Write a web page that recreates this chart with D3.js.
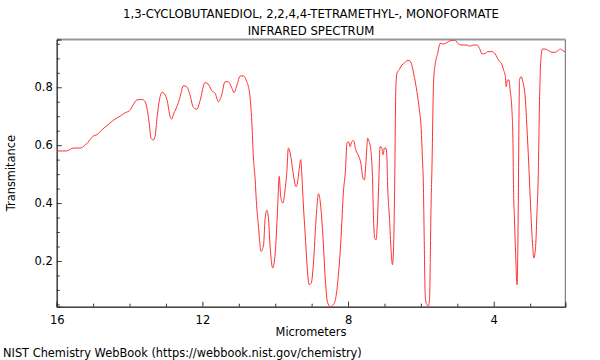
<!DOCTYPE html>
<html><head><meta charset="utf-8">
<script src="https://cdn.jsdelivr.net/npm/d3@7"></script>
<style>body{margin:0;background:#fff}svg{display:block;font-family:"DejaVu Sans",sans-serif}</style>
</head><body><svg id="c" width="600" height="360"></svg>
<script>
const wavelength = [16.0,15.73,15.54,15.36,15.22,15.09,14.99,14.90,14.73,14.54,14.40,14.26,14.12,13.99,13.90,13.80,13.66,13.57,13.51,13.46,13.41,13.35,13.30,13.24,13.16,13.10,13.02,12.96,12.89,12.84,12.80,12.72,12.66,12.61,12.52,12.43,12.34,12.25,12.15,12.06,11.93,11.84,11.74,11.65,11.56,11.47,11.38,11.29,11.19,11.13,11.05,10.96,10.87,10.78,10.71,10.64,10.60,10.55,10.52,10.46,10.39,10.32,10.28,10.23,10.19,10.14,10.07,10.00,9.94,9.89,9.85,9.79,9.73,9.68,9.64,9.59,9.52,9.43,9.39,9.34,9.30,9.27,9.23,9.18,9.13,9.07,9.01,8.95,8.88,8.81,8.77,8.69,8.63,8.57,8.49,8.40,8.33,8.26,8.19,8.13,8.07,8.03,7.99,7.94,7.90,7.85,7.79,7.71,7.65,7.59,7.55,7.51,7.46,7.42,7.37,7.33,7.30,7.27,7.23,7.20,7.16,7.12,7.07,7.04,7.00,6.96,6.93,6.92,6.86,6.82,6.78,6.75,6.72,6.69,6.66,6.59,6.52,6.46,6.38,6.31,6.25,6.20,6.11,6.04,5.99,5.96,5.93,5.91,5.88,5.84,5.79,5.76,5.74,5.72,5.70,5.65,5.61,5.54,5.47,5.38,5.29,5.19,5.06,4.99,4.87,4.74,4.66,4.56,4.46,4.39,4.32,4.23,4.17,4.05,3.96,3.87,3.77,3.73,3.68,3.66,3.62,3.58,3.55,3.50,3.47,3.46,3.43,3.40,3.36,3.34,3.32,3.31,3.29,3.25,3.20,3.13,3.09,3.04,3.02,2.98,2.93,2.90,2.85,2.81,2.78,2.74,2.70,2.66,2.59,2.49,2.40,2.31,2.24,2.17,2.10,2.04];
const transmittance = [0.58,0.58,0.59,0.59,0.60,0.618,0.632,0.636,0.656,0.676,0.69,0.70,0.712,0.72,0.739,0.756,0.758,0.75,0.72,0.676,0.624,0.618,0.63,0.70,0.768,0.783,0.773,0.75,0.70,0.69,0.705,0.727,0.747,0.768,0.805,0.802,0.773,0.731,0.724,0.755,0.816,0.811,0.788,0.779,0.75,0.773,0.819,0.819,0.797,0.781,0.808,0.839,0.839,0.819,0.785,0.676,0.56,0.48,0.41,0.32,0.233,0.256,0.342,0.375,0.354,0.25,0.176,0.227,0.366,0.492,0.423,0.40,0.446,0.509,0.59,0.573,0.515,0.457,0.469,0.52,0.55,0.50,0.40,0.297,0.193,0.118,0.124,0.193,0.342,0.432,0.411,0.285,0.147,0.061,0.042,0.05,0.078,0.159,0.285,0.434,0.515,0.607,0.612,0.595,0.612,0.616,0.584,0.563,0.538,0.486,0.48,0.538,0.624,0.612,0.578,0.492,0.342,0.279,0.273,0.32,0.457,0.595,0.59,0.567,0.59,0.59,0.549,0.492,0.342,0.239,0.187,0.25,0.46,0.79,0.848,0.862,0.877,0.883,0.892,0.892,0.877,0.848,0.785,0.72,0.653,0.56,0.45,0.285,0.078,0.05,0.044,0.078,0.227,0.40,0.50,0.825,0.877,0.917,0.952,0.949,0.954,0.961,0.963,0.952,0.946,0.946,0.942,0.946,0.946,0.934,0.915,0.917,0.923,0.923,0.915,0.894,0.877,0.86,0.837,0.802,0.825,0.825,0.79,0.72,0.595,0.48,0.342,0.227,0.118,0.227,0.48,0.653,0.825,0.837,0.819,0.756,0.664,0.538,0.48,0.366,0.25,0.21,0.25,0.377,0.48,0.768,0.906,0.932,0.932,0.926,0.921,0.921,0.926,0.932,0.926,0.923];
const xTickValues = [16,12,8,4];
const yTickValues = [0.2,0.4,0.6,0.8];
const titleLines = ["1,3-CYCLOBUTANEDIOL, 2,2,4,4-TETRAMETHYL-, MONOFORMATE","INFRARED SPECTRUM"];

const svg = d3.select("#c");
const L=56.7, R=565.3, T=39.5, B=306.7;
const x = d3.scaleLinear().domain([16,2.035]).range([L,R]);
const y = d3.scaleLinear().domain([0.042,0.965]).range([B,T]);

svg.append("defs").append("clipPath").attr("id","clip").append("rect")
  .attr("x",L).attr("y",T).attr("width",R-L).attr("height",B-T);

svg.append("line").attr("x1",L).attr("x2",R).attr("y1",T).attr("y2",T).attr("stroke","#999").attr("stroke-width",2);
svg.append("line").attr("x1",R).attr("x2",R).attr("y1",T).attr("y2",B).attr("stroke","#666").attr("stroke-width",1);

const xMinor = d3.range(15,2,-1).filter(v=>!xTickValues.includes(v));
const yMinor = d3.range(0.05,0.96,0.05).map(v=>+v.toFixed(2)).filter(v=>!yTickValues.includes(v));
svg.append("g").attr("transform",`translate(0,${B})`)
  .call(d3.axisBottom(x).tickValues(xMinor).tickSize(-3).tickFormat(""));
svg.append("g").attr("transform",`translate(0,${B})`)
  .call(d3.axisBottom(x).tickValues(xTickValues).tickSize(-5).tickPadding(9).tickFormat(d3.format("d")));
svg.append("g").attr("transform",`translate(${L},0)`)
  .call(d3.axisLeft(y).tickValues(yMinor).tickSize(-3).tickFormat(""));
const ya2 = svg.append("g").attr("transform",`translate(${L},0)`)
  .call(d3.axisLeft(y).tickValues(yTickValues).tickSize(-5).tickPadding(4).tickFormat(d3.format(".1f")));
svg.selectAll(".domain").attr("stroke","#333");
svg.selectAll(".tick line").attr("stroke","#333");
svg.selectAll(".tick text").attr("font-size",11.5).attr("fill","#000").attr("font-family","DejaVu Sans");
ya2.selectAll(".tick text").attr("x",-4);

const pts = wavelength.map((w,i)=>[w,transmittance[i]]);
svg.append("path").datum(pts).attr("clip-path","url(#clip)")
  .attr("fill","none").attr("stroke","#ff3030").attr("stroke-width",1)
  .attr("d",d3.line().x(d=>x(d[0])).y(d=>y(d[1])).curve(d3.curveMonotoneX));

svg.selectAll(".title").data(titleLines).enter().append("text")
  .attr("x",(L+R)/2).attr("y",(d,i)=>18+i*17).attr("text-anchor","middle")
  .attr("font-size",11.7).text(d=>d);
svg.append("text").attr("x",(L+R)/2).attr("y",335.5).attr("text-anchor","middle").attr("font-size",11.4).text("Micrometers");
svg.append("text").attr("transform",`translate(15,${(T+B)/2}) rotate(-90)`).attr("text-anchor","middle").attr("font-size",11.4).text("Transmitance");
svg.append("text").attr("x",3).attr("y",357).attr("font-size",11.4).text("NIST Chemistry WebBook (https://webbook.nist.gov/chemistry)");
</script></body></html>
